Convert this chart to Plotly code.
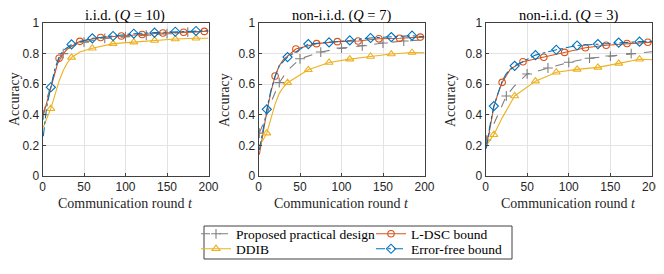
import plotly.graph_objects as go

W, H = 664, 274
OFF = 8  # page body margin in the screenshot; positions below are screenshot pixels

# ---------------- data ----------------
titles = ["i.i.d. (<i>Q</i> = 10)", "non-i.i.d. (<i>Q</i> = 7)", "non-i.i.d. (<i>Q</i> = 3)"]
x_title = "Communication round <i>t</i>"
y_title = "Accuracy"
series_names = ["Proposed practical design", "L-DSC bound", "DDIB", "Error-free bound"]

x_ticks = [0, 50, 100, 150, 200]
y_ticks = [0, 0.2, 0.4, 0.6, 0.8, 1]
y_ticklabels = ["0", "0.2", "0.4", "0.6", "0.8", "1"]

# Panel 1: i.i.d. (Q=10)
p1_prop_rounds = [1, 5, 10, 15, 20, 25, 35, 50, 75, 100, 125, 150, 175, 200]
p1_prop_acc = [0.40, 0.50, 0.59, 0.68, 0.75, 0.80, 0.85, 0.875, 0.90, 0.91, 0.92, 0.93, 0.94, 0.945]
p1_prop_marks = [1, 25, 50, 75, 100, 125, 150, 175]

p1_ldsc_rounds = [1, 5, 10, 15, 20, 30, 45, 70, 95, 120, 145, 170, 195, 200]
p1_ldsc_acc = [0.40, 0.48, 0.57, 0.68, 0.77, 0.83, 0.88, 0.905, 0.915, 0.925, 0.935, 0.94, 0.945, 0.947]
p1_ldsc_marks = [20, 45, 70, 95, 120, 145, 170, 195]

p1_ddib_rounds = [1, 5, 10, 15, 20, 25, 30, 35, 45, 60, 85, 110, 135, 160, 185, 200]
p1_ddib_acc = [0.32, 0.37, 0.44, 0.53, 0.62, 0.69, 0.74, 0.775, 0.81, 0.835, 0.865, 0.875, 0.886, 0.895, 0.90, 0.90]
p1_ddib_marks = [10, 35, 60, 85, 110, 135, 160, 185]

p1_err_rounds = [1, 5, 10, 15, 20, 25, 35, 60, 85, 110, 135, 160, 185, 200]
p1_err_acc = [0.26, 0.45, 0.58, 0.70, 0.78, 0.82, 0.86, 0.90, 0.915, 0.93, 0.937, 0.943, 0.948, 0.95]
p1_err_marks = [10, 35, 60, 85, 110, 135, 160, 185]

# Panel 2: non-i.i.d. (Q=7)
p2_prop_rounds = [1, 5, 10, 15, 20, 25, 35, 50, 75, 100, 125, 150, 175, 200]
p2_prop_acc = [0.28, 0.33, 0.40, 0.48, 0.55, 0.61, 0.69, 0.766, 0.81, 0.836, 0.851, 0.869, 0.882, 0.89]
p2_prop_marks = [1, 25, 50, 75, 100, 125, 150, 175]

p2_ldsc_rounds = [1, 5, 10, 15, 20, 25, 30, 45, 70, 95, 120, 145, 170, 195, 200]
p2_ldsc_acc = [0.14, 0.27, 0.42, 0.55, 0.654, 0.72, 0.76, 0.83, 0.865, 0.878, 0.882, 0.897, 0.90, 0.908, 0.905]
p2_ldsc_marks = [20, 45, 70, 95, 120, 145, 170, 195]

p2_ddib_rounds = [1, 5, 10, 15, 20, 25, 30, 35, 60, 85, 110, 135, 160, 185, 200]
p2_ddib_acc = [0.20, 0.23, 0.28, 0.38, 0.47, 0.54, 0.58, 0.61, 0.694, 0.742, 0.764, 0.781, 0.797, 0.807, 0.805]
p2_ddib_marks = [10, 35, 60, 85, 110, 135, 160, 185]

p2_err_rounds = [1, 5, 10, 15, 20, 25, 35, 60, 85, 110, 135, 160, 185, 200]
p2_err_acc = [0.17, 0.30, 0.436, 0.56, 0.65, 0.72, 0.777, 0.862, 0.873, 0.886, 0.902, 0.908, 0.917, 0.91]
p2_err_marks = [10, 35, 60, 85, 110, 135, 160, 185]

# Panel 3: non-i.i.d. (Q=3)
p3_prop_rounds = [1, 5, 10, 15, 25, 35, 50, 75, 100, 125, 150, 175, 200]
p3_prop_acc = [0.235, 0.28, 0.34, 0.40, 0.523, 0.59, 0.667, 0.706, 0.743, 0.77, 0.784, 0.80, 0.812]
p3_prop_marks = [1, 25, 50, 75, 100, 125, 150, 175]

p3_ldsc_rounds = [1, 5, 10, 15, 20, 30, 45, 70, 95, 120, 145, 170, 195, 200]
p3_ldsc_acc = [0.20, 0.30, 0.45, 0.54, 0.612, 0.70, 0.747, 0.776, 0.808, 0.838, 0.855, 0.866, 0.874, 0.875]
p3_ldsc_marks = [20, 45, 70, 95, 120, 145, 170, 195]

p3_ddib_rounds = [1, 5, 10, 20, 35, 60, 85, 110, 135, 160, 185, 200]
p3_ddib_acc = [0.20, 0.23, 0.27, 0.38, 0.523, 0.62, 0.678, 0.697, 0.71, 0.736, 0.763, 0.76]
p3_ddib_marks = [10, 35, 60, 85, 110, 135, 160, 185]

p3_err_rounds = [1, 5, 10, 20, 25, 35, 60, 85, 110, 135, 160, 185, 200]
p3_err_acc = [0.18, 0.32, 0.457, 0.62, 0.67, 0.72, 0.79, 0.825, 0.853, 0.862, 0.872, 0.878, 0.88]
p3_err_marks = [10, 35, 60, 85, 110, 135, 160, 185]

panels = [
    [(p1_prop_rounds, p1_prop_acc, p1_prop_marks), (p1_ldsc_rounds, p1_ldsc_acc, p1_ldsc_marks),
     (p1_ddib_rounds, p1_ddib_acc, p1_ddib_marks), (p1_err_rounds, p1_err_acc, p1_err_marks)],
    [(p2_prop_rounds, p2_prop_acc, p2_prop_marks), (p2_ldsc_rounds, p2_ldsc_acc, p2_ldsc_marks),
     (p2_ddib_rounds, p2_ddib_acc, p2_ddib_marks), (p2_err_rounds, p2_err_acc, p2_err_marks)],
    [(p3_prop_rounds, p3_prop_acc, p3_prop_marks), (p3_ldsc_rounds, p3_ldsc_acc, p3_ldsc_marks),
     (p3_ddib_rounds, p3_ddib_acc, p3_ddib_marks), (p3_err_rounds, p3_err_acc, p3_err_marks)],
]

# ---------------- styles ----------------
styles = [
    dict(color="#7f7f7f", dash="dash", symbol="cross-thin-open", size=7),
    dict(color="#D95319", dash="solid", symbol="circle-open", size=6.5),
    dict(color="#EDB120", dash="solid", symbol="triangle-up-open", size=7),
    dict(color="#0072BD", dash="dashdot", symbol="diamond-open", size=7),
]

SERIF = "Liberation Serif, Times New Roman, DejaVu Serif, serif"
SANS = "Liberation Sans, Arial, sans-serif"


def px_x(x):
    return (x - OFF) / W


def px_y(y):
    return 1 - (y - OFF) / H


x_domains = [(px_x(42.5), px_x(208.5)), (px_x(258.5), px_x(424.5)), (px_x(485.5), px_x(652))]
y_domain = (px_y(176), px_y(23))
ytitle_shift = [-28, -34, -35]

fig = go.Figure()

for pi, panel in enumerate(panels):
    xa = "x" if pi == 0 else f"x{pi+1}"
    ya = "y" if pi == 0 else f"y{pi+1}"
    for si, (rounds, acc, marks) in enumerate(panel):
        st = styles[si]
        fig.add_trace(go.Scatter(
            x=rounds, y=acc, mode="lines", xaxis=xa, yaxis=ya, showlegend=False,
            line=dict(color=st["color"], width=1.1, dash=st["dash"]), hoverinfo="skip"))
        lookup = dict(zip(rounds, acc))
        fig.add_trace(go.Scatter(
            x=marks, y=[lookup[m] for m in marks], mode="markers", xaxis=xa, yaxis=ya,
            showlegend=False,
            marker=dict(symbol=st["symbol"], size=st["size"], color=st["color"],
                        line=dict(color=st["color"], width=1.1))))

# legend entries: one legend per entry so rows can be packed tightly
legend_ids = ["legend", "legend3", "legend2", "legend4"]
for si, name in enumerate(series_names):
    st = styles[si]
    fig.add_trace(go.Scatter(
        x=[None], y=[None], mode="lines+markers", name=name, legend=legend_ids[si],
        line=dict(color=st["color"], width=1.1, dash=st["dash"]),
        marker=dict(symbol=st["symbol"], size=st["size"], color=st["color"],
                    line=dict(color=st["color"], width=1.1))))

axis_common = dict(
    showline=True, mirror=True, linecolor="#404040", linewidth=1,
    ticks="inside", ticklen=3, tickcolor="#404040", automargin=False,
    showgrid=True, gridcolor="#e3e3e3", gridwidth=1, zeroline=False,
    tickfont=dict(family=SANS, size=12, color="#262626"),
)

layout = dict(
    width=W, height=H, margin=dict(l=0, r=0, t=0, b=0, autoexpand=False),
    paper_bgcolor="white", plot_bgcolor="white",
)

annotations = []
for pi in range(3):
    xk = "xaxis" if pi == 0 else f"xaxis{pi+1}"
    yk = "yaxis" if pi == 0 else f"yaxis{pi+1}"
    ya = "y" if pi == 0 else f"y{pi+1}"
    xa = "x" if pi == 0 else f"x{pi+1}"
    layout[xk] = dict(axis_common, domain=list(x_domains[pi]), range=[0, 200],
                      tickvals=x_ticks, anchor=ya)
    layout[yk] = dict(axis_common, domain=list(y_domain), range=[0, 1],
                      tickvals=y_ticks, ticktext=y_ticklabels, anchor=xa)
    annotations.append(dict(
        text=titles[pi], xref=f"{xa} domain", yref=f"{ya} domain", x=0.5, y=1, yshift=7,
        xanchor="center", yanchor="middle", showarrow=False,
        font=dict(family=SERIF, size=14.5, color="#000000")))
    annotations.append(dict(
        text=x_title, xref=f"{xa} domain", yref=f"{ya} domain", x=0.5, y=0, yshift=-27,
        xanchor="center", yanchor="middle", showarrow=False,
        font=dict(family=SERIF, size=14, color="#262626")))
    annotations.append(dict(
        text=y_title, xref=f"{xa} domain", yref=f"{ya} domain", x=0, y=0.5,
        xshift=ytitle_shift[pi],
        xanchor="center", yanchor="middle", showarrow=False, textangle=-90,
        font=dict(family=SERIF, size=14, color="#262626")))

layout["annotations"] = annotations
leg_common = dict(
    font=dict(family=SERIF, size=13.5, color="#000000"),
    bgcolor="rgba(0,0,0,0)", borderwidth=0,
    xanchor="left", yanchor="middle", tracegroupgap=0, itemwidth=30,
)
layout["legend"] = dict(leg_common, x=px_x(196), y=px_y(234))
layout["legend2"] = dict(leg_common, x=px_x(196), y=px_y(249))
layout["legend3"] = dict(leg_common, x=px_x(371), y=px_y(234))
layout["legend4"] = dict(leg_common, x=px_x(371), y=px_y(249))
layout["shapes"] = [dict(type="rect", xref="paper", yref="paper",
                         x0=px_x(204), x1=px_x(512), y0=px_y(259), y1=px_y(226),
                         line=dict(color="#404040", width=1), fillcolor="rgba(0,0,0,0)")]

fig.update_layout(**layout)
fig.write_html("out.html")
